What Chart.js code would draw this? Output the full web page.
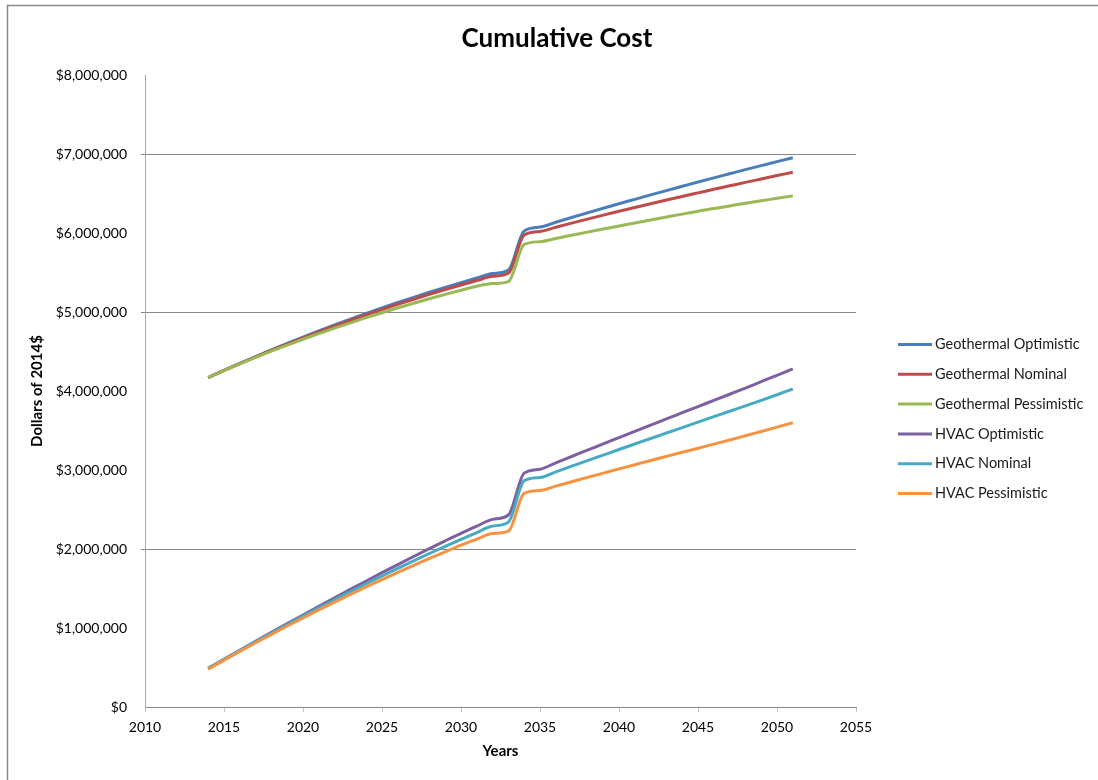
<!DOCTYPE html>
<html>
<head>
<meta charset="utf-8">
<title>Cumulative Cost</title>
<script src="https://cdn.jsdelivr.net/npm/chart.js"></script>
<style>
  html, body { margin: 0; padding: 0; background: #fff; }
  #wrap { width: 1098px; height: 780px; }
</style>
</head>
<body>
<div id="wrap"><canvas id="myChart" width="1098" height="780"></canvas></div>
<script>
// years on the x axis
const years = [2014,2015,2016,2017,2018,2019,2020,2021,2022,2023,
               2024,2025,2026,2027,2028,2029,2030,2031,2032,2033,
               2034,2035,2036,2037,2038,2039,2040,2041,2042,2043,
               2044,2045,2046,2047,2048,2049,2050,2051];

// cumulative cost, dollars of 2014
const geoOptimistic = [4170000,4262000,4350000,4436000,4520000,4602000,4682000,4760000,4836000,4910000,
                       4982000,5052000,5120000,5186000,5250000,5312000,5372000,5430000,5486000,5530000,
                       6025000,6075000,6136000,6196000,6255000,6313000,6370000,6426000,6482000,6537000,
                       6591000,6645000,6698000,6750000,6802000,6853000,6903000,6953000];
const geoNominal = [4170000,4261000,4348000,4432000,4514000,4594000,4672000,4748000,4822000,4894000,
                    4964000,5032000,5098000,5162000,5224000,5284000,5342000,5398000,5452000,5490000,
                    5975000,6020000,6073000,6125000,6176000,6226000,6275000,6323000,6370000,6417000,
                    6463000,6508000,6553000,6597000,6641000,6684000,6727000,6770000];
const geoPessimistic = [4170000,4259000,4344000,4426000,4505000,4581000,4655000,4727000,4796000,4863000,
                        4928000,4991000,5052000,5111000,5168000,5223000,5276000,5327000,5360000,5385000,
                        5855000,5890000,5931000,5971000,6011000,6050000,6089000,6127000,6165000,6202000,
                        6239000,6275000,6311000,6343000,6376000,6408000,6439000,6470000];
const hvacOptimistic = [490000,605000,719000,832000,944000,1055000,1165000,1274000,1382000,1489000,
                        1595000,1700000,1803000,1905000,2005000,2103000,2199000,2290000,2375000,2430000,
                        2960000,3010000,3091000,3171000,3251000,3331000,3410000,3489000,3568000,3647000,
                        3725000,3803000,3881000,3959000,4037000,4118000,4199000,4280000];
const hvacNominal = [490000,604000,716000,827000,936000,1044000,1150000,1255000,1358000,1460000,
                     1560000,1658000,1755000,1850000,1943000,2034000,2123000,2208000,2290000,2340000,
                     2865000,2905000,2977000,3048000,3119000,3189000,3259000,3329000,3399000,3468000,
                     3537000,3606000,3675000,3744000,3812000,3882000,3953000,4025000];
const hvacPessimistic = [480000,593000,704000,813000,920000,1025000,1128000,1229000,1328000,1425000,
                         1520000,1613000,1704000,1793000,1880000,1965000,2048000,2126000,2195000,2225000,
                         2705000,2740000,2796000,2851000,2906000,2960000,3014000,3067000,3120000,3172000,
                         3224000,3276000,3327000,3380000,3433000,3488000,3543000,3598000];

const seriesNames = ['Geothermal Optimistic', 'Geothermal Nominal', 'Geothermal Pessimistic',
                     'HVAC Optimistic', 'HVAC Nominal', 'HVAC Pessimistic'];
const seriesValues = [geoOptimistic, geoNominal, geoPessimistic, hvacOptimistic, hvacNominal, hvacPessimistic];
const seriesColors = ['#4a7ebb', '#be4b48', '#98b954', '#7d60a0', '#46aac5', '#f69240'];

// only these y values get a gridline in the original
const gridValues = [2000000, 5000000, 7000000];

Chart.defaults.font.family = 'Lato';

const datasets = seriesValues.map((vals, i) => ({
    label: seriesNames[i],
    data: years.map((yr, j) => ({ x: yr, y: vals[j] })),
    borderColor: seriesColors[i],
    backgroundColor: seriesColors[i],
    order: seriesNames.length - i   // later series on top, like excel
}));

// frame around the chart (top + left edge visible)
const framePlugin = {
    id: 'frame',
    beforeDraw(chart) {
        const ctx = chart.ctx;
        ctx.save();
        ctx.fillStyle = '#fff';
        ctx.fillRect(0, 0, chart.width, chart.height);
        ctx.strokeStyle = '#8a8a8a';
        ctx.lineWidth = 1.5;
        ctx.beginPath();
        ctx.moveTo(chart.width, 5.5);
        ctx.lineTo(7.5, 5.5);
        ctx.lineTo(7.5, chart.height);
        ctx.stroke();
        ctx.restore();
    }
};

const titlePlugin = {
    id: 'bigTitle',
    afterDraw(chart) {
        const ctx = chart.ctx;
        ctx.save();
        ctx.font = 'bold 26px Lato';
        ctx.fillStyle = '#000';
        ctx.textAlign = 'center';
        ctx.textBaseline = 'alphabetic';
        ctx.fillText('Cumulative Cost', 557, 47);
        ctx.restore();
    }
};

const legendPlugin = {
    id: 'sideLegend',
    afterDraw(chart) {
        const ctx = chart.ctx;
        ctx.save();
        ctx.font = '14.5px Lato';
        ctx.textBaseline = 'middle';
        ctx.textAlign = 'left';
        chart.data.datasets.forEach((ds, i) => {
            const y = 344.5 + i * 29.8;
            ctx.strokeStyle = ds.borderColor;
            ctx.lineWidth = 3;
            ctx.beginPath();
            ctx.moveTo(898, y);
            ctx.lineTo(932, y);
            ctx.stroke();
            ctx.fillStyle = '#1a1a1a';
            ctx.fillText(ds.label, 935, y);
        });
        ctx.restore();
    }
};

const ctx = document.getElementById('myChart').getContext('2d');
const chart = new Chart(ctx, {
    type: 'line',
    data: { datasets: datasets },
    options: {
        responsive: false,
        animation: false,
        layout: { padding: { left: 0, right: 242, top: 75, bottom: 0 } },
        plugins: {
            legend: { display: false },
            title: { display: false },
            tooltip: { enabled: false }
        },
        elements: {
            point: { radius: 0 },
            line: { borderWidth: 3, cubicInterpolationMode: 'monotone' }
        },
        scales: {
            x: {
                type: 'linear',
                min: 2010,
                max: 2055,
                ticks: {
                    stepSize: 5,
                    padding: 7,
                    color: '#000',
                    font: { size: 14 },
                    callback: v => String(v)
                },
                grid: { drawOnChartArea: false, tickLength: 5, tickColor: '#c4c4c4' },
                border: { color: '#868686', width: 1 },
                title: {
                    display: true,
                    text: 'Years',
                    color: '#000',
                    font: { size: 15, weight: 'bold' },
                    padding: { top: 0, bottom: 20 }
                },
                afterFit: s => { s.height = 73; }
            },
            y: {
                min: 0,
                max: 8000000,
                ticks: {
                    stepSize: 1000000,
                    padding: 14,
                    color: '#000',
                    font: { size: 14 },
                    callback: v => '$' + Number(v).toLocaleString('en-US')
                },
                grid: {
                    tickLength: 4,
                    color: c => gridValues.includes(c.tick.value) ? '#868686' : 'rgba(0,0,0,0)',
                    tickColor: c => gridValues.includes(c.tick.value) ? '#868686' : 'rgba(0,0,0,0)'
                },
                border: { color: '#a6a6a6', width: 1 },
                title: {
                    display: true,
                    text: 'Dollars of 2014$',
                    color: '#000',
                    font: { size: 15, weight: 'bold' },
                    padding: { top: 28, bottom: 0 }
                },
                afterFit: s => { s.width = 145; }
            }
        }
    },
    plugins: [framePlugin, titlePlugin, legendPlugin]
});
</script>
</body>
</html>
